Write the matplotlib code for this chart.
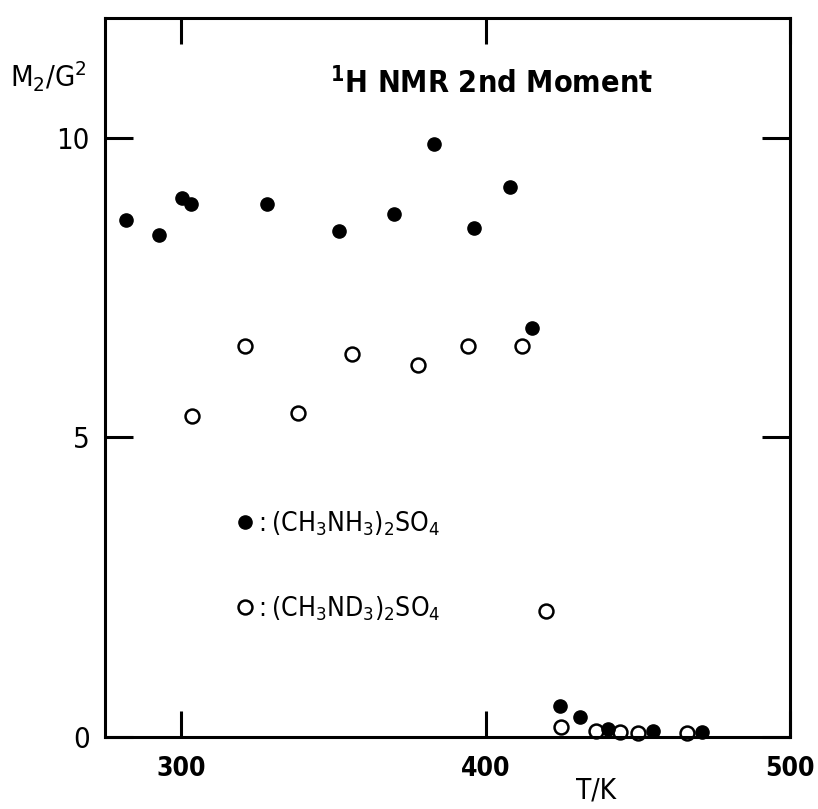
import numpy as np
import matplotlib
matplotlib.use('agg')
import matplotlib.pyplot as plt
from matplotlib.lines import Line2D

# (CH3NH3)2SO4, filled circles
T_nh = [281.9, 292.8, 300.3, 303.2, 328.3, 351.8, 370.0, 382.9, 396.3, 408.1,
        415.4, 424.5, 431.0, 440.3, 455.1, 471.0]
M2_nh = [8.62, 8.38, 9.00, 8.90, 8.90, 8.44, 8.72, 9.90, 8.50, 9.18,
         6.82, 0.52, 0.33, 0.13, 0.095, 0.08]

# (CH3ND3)2SO4, open circles
T_nd = [303.5, 321.1, 338.3, 356.1, 377.9, 394.2, 411.9, 419.9, 424.7, 436.3,
        444.0, 450.2, 466.3]
M2_nd = [5.35, 6.53, 5.41, 6.40, 6.21, 6.52, 6.52, 2.10, 0.16, 0.095,
         0.08, 0.07, 0.07]

xticks = [300, 400, 500]
yticks = [0, 5, 10]
lbl_nh = r'$\mathregular{:(CH_3NH_3)_2SO_4}$'
lbl_nd = r'$\mathregular{:(CH_3ND_3)_2SO_4}$'

plt.rcParams['font.family'] = ['DejaVu Sans']
plt.rcParams['font.stretch'] = 'condensed'
plt.rcParams['mathtext.fontset'] = 'custom'
plt.rcParams['mathtext.rm'] = 'DejaVu Sans:stretch=condensed'

fs = 21
lw = 2.2
ms = 9.5

fig = plt.figure(figsize=(8.18, 8.09), dpi=100)
ax = fig.add_axes([0.1284, 0.089, 0.8374, 0.8888])

ax.plot(T_nh, M2_nh, 'o', color='k', ms=ms, mec='k', clip_on=False, zorder=3)
ax.plot(T_nd, M2_nd, 'o', mfc='white', mec='k', mew=1.8, ms=ms + 0.5,
        clip_on=False, zorder=2)

ax.set_xlim(275, 500)
ax.set_ylim(0, 12)
ax.set_xticks(xticks)
ax.set_yticks(yticks)
ax.set_xticklabels([str(t) for t in xticks], fontsize=fs - 2, weight='bold')
ax.set_yticklabels([str(t) for t in yticks], fontsize=fs)
ax.tick_params(axis='x', direction='in', length=19, width=lw, top=True, pad=14)
ax.tick_params(axis='y', direction='in', length=20, width=lw, right=True, pad=11)
for s in ax.spines.values():
    s.set_linewidth(lw)

ax.text(0.328, 0.91, r'$\mathregular{^1}$H NMR 2nd Moment', transform=ax.transAxes,
        fontsize=fs + 1, weight='bold', ha='left', va='center')

handles = [Line2D([], [], ls='none', marker='o', color='k', ms=ms),
           Line2D([], [], ls='none', marker='o', mfc='white', mec='k', mew=1.8, ms=ms + 0.5)]
leg = ax.legend(handles, [lbl_nh, lbl_nd], loc='upper left',
                bbox_to_anchor=(0.158, 0.35), frameon=False, fontsize=fs - 2,
                handlelength=0.6, handletextpad=0.05, labelspacing=2.15)

fig.text(0.012, 0.905, r'$\mathregular{M_2/G^2}$', fontsize=fs, ha='left', va='center')
fig.text(0.729, 0.006, 'T/K', fontsize=fs - 1, ha='center', va='bottom')

fig.savefig('out.png', dpi=100)
